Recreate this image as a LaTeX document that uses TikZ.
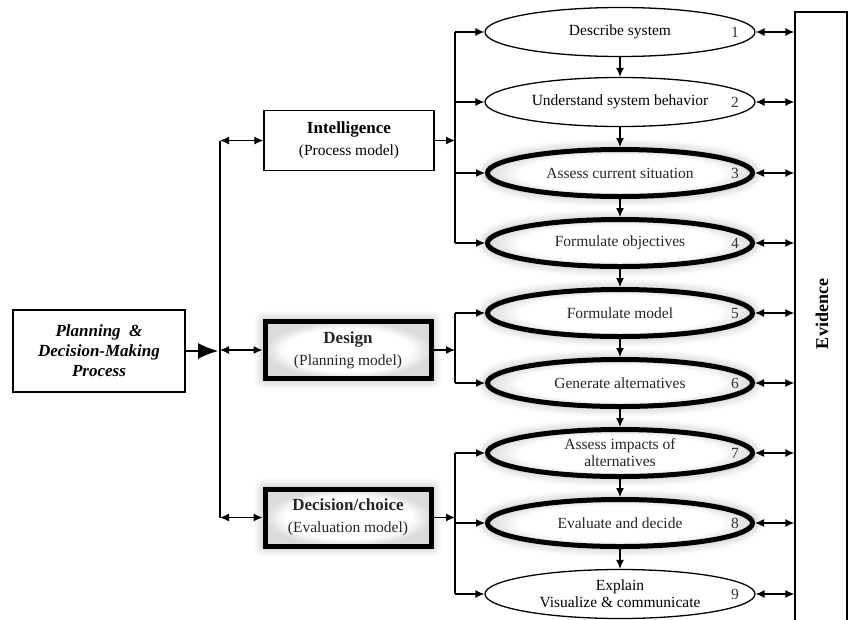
\documentclass[tikz,border=0pt]{standalone}
\usepackage{fontspec}
\setmainfont{Liberation Serif}
\usetikzlibrary{shapes.geometric,arrows.meta,shadows.blur}

\pgfdeclareradialshading{innerglow}{\pgfpointorigin}{%
  color(0bp)=(white); color(19bp)=(white); color(25bp)=(black!14); color(50bp)=(black!14)}

\tikzset{
  glow/.style={blur shadow={shadow xshift=0pt, shadow yshift=0pt, shadow blur radius=11pt, shadow blur steps=12, shadow opacity=35}},
  stage/.style={draw, fill=white, line width=1.3pt, minimum width=170pt, minimum height=60pt, inner sep=2pt, align=center, font=\fontsize{15.5}{22}\selectfont},
  keystage/.style={stage, line width=5pt, minimum width=166pt, minimum height=57pt, shade, shading=innerglow, text=black!85, glow},
  task/.style={ellipse, draw, fill=white, line width=1.3pt, minimum width=270pt, minimum height=49pt, inner sep=0pt, align=center, font=\fontsize{15.5}{17}\selectfont},
  keytask/.style={task, line width=5pt, minimum width=265pt, minimum height=47pt, shade, shading=innerglow, text=black!85, glow},
  num/.style={font=\fontsize{15.5}{17}\selectfont, text=black!80},
  link/.style={line width=1.2pt},
}

\begin{document}
\begin{tikzpicture}[x=1pt, y=-1pt, >={Latex[length=9pt,width=8pt]}]
  \useasboundingbox (0,0) rectangle (849,619);

  % khoi ben trai
  \node[stage, minimum width=172pt, minimum height=82pt, font=\bfseries\itshape\fontsize{17}{20}\selectfont] (plan) at (99,351) {Planning \ \&\\Decision-Making\\Process};
  \node[stage] (intel) at (349,140.5) {{\fontsize{17}{22}\selectfont\bfseries Intelligence}\\(Process model)};
  \node[keystage] (design) at (348,350) {{\fontsize{17}{22}\selectfont\bfseries Design}\\(Planning model)};
  \node[keystage] (dec) at (348,517.5) {{\fontsize{17}{22}\selectfont\bfseries Decision/choice}\\(Evaluation model)};

  % cac buoc
  \node[task] (e1) at (620,32) {Describe system};
  \node[task] (e2) at (620,102) {Understand system behavior};
  \node[keytask] (e3) at (620,173) {Assess current situation};
  \node[keytask] (e4) at (620,243) {Formulate objectives};
  \node[keytask] (e5) at (620,313) {Formulate model};
  \node[keytask] (e6) at (620,383) {Generate alternatives};
  \node[keytask] (e7) at (620,453) {Assess impacts of\\alternatives};
  \node[keytask] (e8) at (620,523) {Evaluate and decide};
  \node[task] (e9) at (620,594) {Explain\\Visualize \& communicate};

  \node[num] (n1) at (735,32) {1};
  \node[num] (n2) at (735,102) {2};
  \node[num] (n3) at (735,173) {3};
  \node[num] (n4) at (735,243) {4};
  \node[num] (n5) at (735,313) {5};
  \node[num] (n6) at (735,383) {6};
  \node[num] (n7) at (735,453) {7};
  \node[num] (n8) at (735,523) {8};
  \node[num] (n9) at (735,594) {9};

  \node[draw, line width=1.3pt, minimum width=52pt, minimum height=620pt, inner sep=0pt] (evid) at (821,322) {};
  \node[rotate=90, font=\bfseries\fontsize{18}{20}\selectfont] (evlabel) at (822,314) {Evidence};

  \coordinate (mx) at (220,0);
  \coordinate (bx) at (455,0);

  % truc chinh
  \draw[link] (intel -| mx) -- (dec -| mx);
  \draw[link, -{Latex[length=20pt,width=16pt]}, shorten >=2pt] (plan) -- (plan -| mx);
  \draw[link, <->] (intel -| mx) -- (intel);
  \draw[link, <->] (design -| mx) -- (design);
  \draw[link, <->] (dec -| mx) -- (dec);

  % nhanh sang cac buoc
  \draw[link, ->] (intel) -- (intel -| bx);
  \draw[link] (e1 -| bx) -- (e4 -| bx);
  \draw[link, ->] (e1 -| bx) -- (e1);
  \draw[link, ->] (e2 -| bx) -- (e2);
  \draw[link, ->] (e3 -| bx) -- (e3);
  \draw[link, ->] (e4 -| bx) -- (e4);

  \draw[link, ->] (design) -- (design -| bx);
  \draw[link] (e5 -| bx) -- (e6 -| bx);
  \draw[link, ->] (e5 -| bx) -- (e5);
  \draw[link, ->] (e6 -| bx) -- (e6);

  \draw[link, ->] (dec) -- (dec -| bx);
  \draw[link] (e7 -| bx) -- (e9 -| bx);
  \draw[link, ->] (e7 -| bx) -- (e7);
  \draw[link, ->] (e8 -| bx) -- (e8);
  \draw[link, ->] (e9 -| bx) -- (e9);

  % mui ten giua cac buoc
  \draw[link, ->] (e1) -- (e2);
  \draw[link, ->] (e2) -- (e3);
  \draw[link, ->] (e3) -- (e4);
  \draw[link, ->] (e4) -- (e5);
  \draw[link, ->] (e5) -- (e6);
  \draw[link, ->] (e6) -- (e7);
  \draw[link, ->] (e7) -- (e8);
  \draw[link, ->] (e8) -- (e9);

  % sang Evidence
  \draw[link, <->] (e1) -- (e1 -| evid.west);
  \draw[link, <->] (e2) -- (e2 -| evid.west);
  \draw[link, <->] (e3) -- (e3 -| evid.west);
  \draw[link, <->] (e4) -- (e4 -| evid.west);
  \draw[link, <->] (e5) -- (e5 -| evid.west);
  \draw[link, <->] (e6) -- (e6 -| evid.west);
  \draw[link, <->] (e7) -- (e7 -| evid.west);
  \draw[link, <->] (e8) -- (e8 -| evid.west);
  \draw[link, <->] (e9) -- (e9 -| evid.west);
\end{tikzpicture}
\end{document}
